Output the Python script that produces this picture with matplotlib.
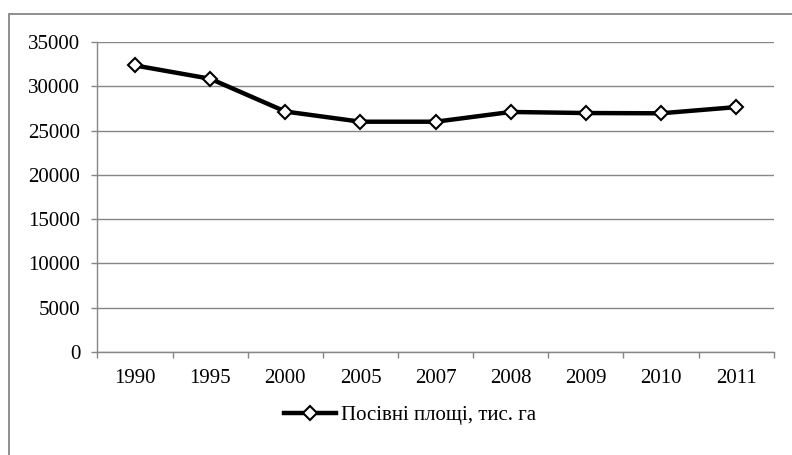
import numpy as np
import matplotlib
matplotlib.use("Agg")
import matplotlib.pyplot as plt
from matplotlib.patches import Rectangle

plt.rcParams["font.family"] = ["Liberation Serif", "DejaVu Serif"]

years = ["1990", "1995", "2000", "2005", "2007", "2008", "2009", "2010", "2011"]
area = [32350, 30850, 27150, 26000, 26000, 27100, 26980, 26950, 27650]
y_ticks = [0, 5000, 10000, 15000, 20000, 25000, 30000, 35000]
series_label = "Посівні площі, тис. га"

grey = "#868686"

fig = plt.figure(figsize=(7.92, 4.55), dpi=100)
ax = fig.add_axes([0.1231, 0.2264, 0.977 - 0.1231, 0.9077 - 0.2264])

# outer chart border (cut on right and bottom like the original)
fig.patches.append(Rectangle((9 / 792, -0.05), 1.1, 1 - 14 / 455 + 0.05,
                             transform=fig.transFigure, fill=False,
                             edgecolor=grey, linewidth=1.3))

x = np.arange(len(years))
ax.plot(x, area, color="black", linewidth=3.2, marker="D", markersize=7,
        markerfacecolor="white", markeredgecolor="black", markeredgewidth=1.5,
        label=series_label, zorder=3)

ax.set_xlim(-0.5, len(years) - 0.5)
ax.set_ylim(0, 35000)
ax.set_yticks(y_ticks)
ax.set_yticklabels([str(v) for v in y_ticks])
ax.set_xticks(x)
ax.set_xticklabels(years)
ax.set_xticks(np.arange(-0.5, len(years)), minor=True)

ax.grid(axis="y", color=grey, linewidth=1.0)
ax.set_axisbelow(True)
for side in ["top", "right"]:
    ax.spines[side].set_visible(False)
for side in ["left", "bottom"]:
    ax.spines[side].set_color(grey)
    ax.spines[side].set_linewidth(1.0)

ax.tick_params(axis="y", length=4, width=1, color=grey, pad=8.5, labelsize=15)
ax.tick_params(axis="x", which="major", length=0, pad=12, labelsize=15)
ax.tick_params(axis="x", which="minor", length=4, width=1, color=grey)

fig.legend(loc="center", bbox_to_anchor=(0.518, 0.087), frameon=False,
           fontsize=15, handlelength=2.5, handletextpad=0.25)

fig.savefig("out.png", dpi=100)
